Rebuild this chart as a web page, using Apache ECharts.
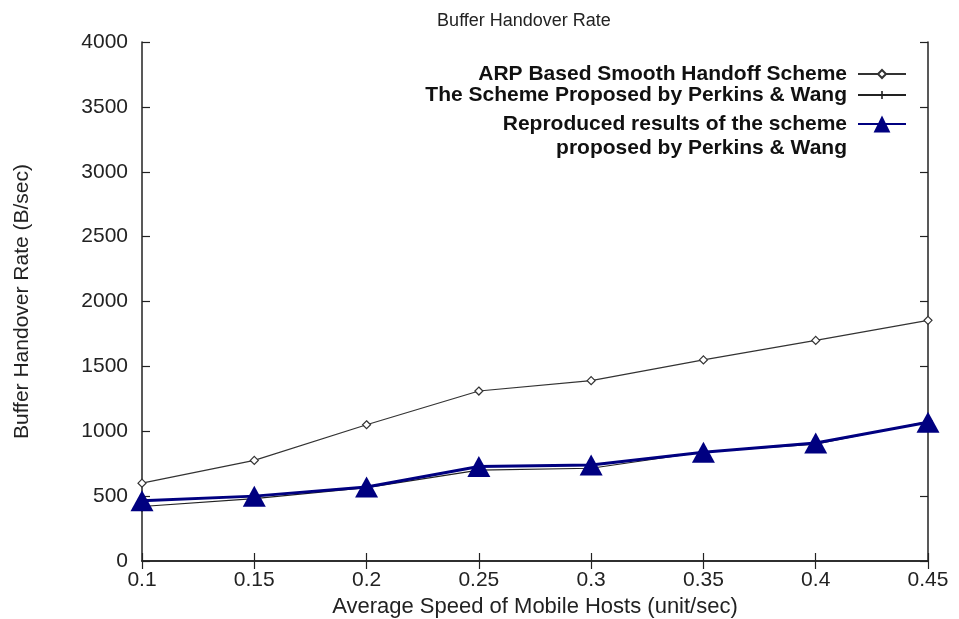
<!DOCTYPE html>
<html>
<head>
<meta charset="utf-8">
<script src="https://cdn.jsdelivr.net/npm/echarts@6/dist/echarts.min.js"></script>
<style>
html,body{margin:0;padding:0;background:#fff;}
#chart{width:959px;height:619px;}
</style>
</head>
<body>
<div id="chart"></div>
<script>
var categories = ['0.1','0.15','0.2','0.25','0.3','0.35','0.4','0.45'];
var arpValues = [600, 775, 1050, 1310, 1390, 1550, 1700, 1855];
var perkinsValues = [420, 480, 565, 700, 715, 840, 900, 1075];
var reproducedValues = [465, 500, 570, 728, 740, 838, 910, 1070];
var seriesNames = [
  'ARP Based Smooth Handoff Scheme',
  'The Scheme Proposed by Perkins & Wang',
  'Reproduced results of the scheme\nproposed by Perkins & Wang'
];

var FONT = '"Liberation Sans", Arial, Helvetica, sans-serif';
var chart = echarts.init(document.getElementById('chart'), null, {renderer: 'canvas'});
var axisLine = {show: true, lineStyle: {color: '#222', width: 1.5}};
var tick = {show: true, inside: true, length: 8, lineStyle: {color: '#222', width: 1.2}};
var legendText = {fontFamily: FONT, fontSize: 21, fontWeight: 'bold', color: '#111', lineHeight: 24, padding: [0, 6, 0, 0]};

function legendFor(idx, top, h, fmt) {
  var l = {
    orient: 'vertical', right: 47, top: top, align: 'right',
    itemWidth: 48, itemHeight: h, itemGap: 0,
    data: [seriesNames[idx]], textStyle: legendText, selectedMode: false
  };
  if (fmt) l.formatter = fmt;
  return l;
}

var option = {
  backgroundColor: '#fff',
  animation: false,
  title: {
    text: 'Buffer Handover Rate',
    left: 519, top: 7, textAlign: 'center',
    textStyle: {fontFamily: FONT, fontSize: 18, fontWeight: 'normal', color: '#222'}
  },
  legend: [
    legendFor(0, 57, 10),
    legendFor(1, 78, 10),
    legendFor(2, 83, 21, function (name) { return ' \n' + name; })
  ],
  grid: {left: 142, right: 31, top: 42, bottom: 58, show: false, outerBoundsMode: 'none', containLabel: false},
  xAxis: [{
    type: 'category', data: categories, boundaryGap: false,
    axisLine: axisLine, axisTick: tick,
    axisLabel: {fontFamily: FONT, fontSize: 21, color: '#222', margin: 9, showMinLabel: true, showMaxLabel: true},
    splitLine: {show: false},
    name: 'Average Speed of Mobile Hosts (unit/sec)', nameLocation: 'middle', nameGap: 33,
    nameTextStyle: {fontFamily: FONT, fontSize: 22, color: '#222'}
  }, {
    type: 'category', data: categories, boundaryGap: false, position: 'top',
    axisLine: axisLine, axisTick: tick, axisLabel: {show: false}, splitLine: {show: false}
  }],
  yAxis: [{
    type: 'value', min: 0, max: 4000, interval: 500,
    axisLine: axisLine, axisTick: tick,
    axisLabel: {fontFamily: FONT, fontSize: 21, color: '#222', margin: 14, formatter: function (v) { return String(v); }},
    splitLine: {show: false},
    name: 'Buffer Handover Rate (B/sec)', nameLocation: 'middle', nameGap: 109,
    nameTextStyle: {fontFamily: FONT, fontSize: 21, color: '#222'}
  }, {
    type: 'value', min: 0, max: 4000, interval: 500, position: 'right',
    axisLine: axisLine, axisTick: tick, axisLabel: {show: false}, splitLine: {show: false}
  }],
  series: [{
    name: seriesNames[0], type: 'line', data: arpValues,
    symbol: 'diamond', symbolSize: 8, showAllSymbol: true,
    lineStyle: {color: '#333', width: 1.2},
    itemStyle: {color: '#fff', borderColor: '#333', borderWidth: 1.2},
    z: 2
  }, {
    name: seriesNames[1], type: 'line', data: perkinsValues,
    symbol: 'path://M4,0H6V4H10V6H6V10H4V6H0V4H4Z', symbolSize: 10, showAllSymbol: true,
    lineStyle: {color: '#222', width: 1.2},
    itemStyle: {color: '#222'},
    z: 3
  }, {
    name: seriesNames[2], type: 'line', data: reproducedValues,
    symbol: 'triangle', symbolSize: [23, 21], showAllSymbol: true,
    lineStyle: {color: '#000080', width: 3},
    itemStyle: {color: '#000080'},
    z: 4
  }]
};
chart.setOption(option);
</script>
</body>
</html>
